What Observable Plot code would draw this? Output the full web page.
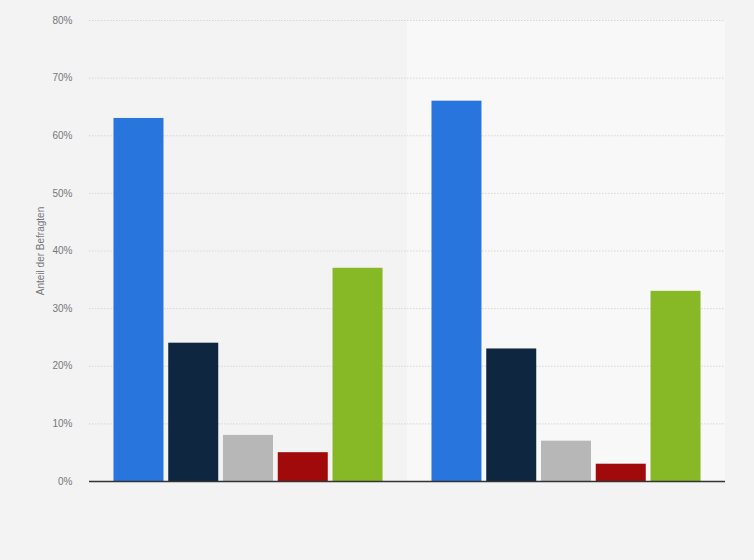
<!DOCTYPE html>
<html>
<head>
<meta charset="utf-8">
<script src="https://cdn.jsdelivr.net/npm/d3@7"></script>
<script src="https://cdn.jsdelivr.net/npm/@observablehq/plot@0.6"></script>
<style>
  html, body { margin: 0; padding: 0; background: #f3f3f3; }
  #chart { width: 754px; height: 560px; }
</style>
</head>
<body>
<div id="chart"></div>
<script>
const groups = ["Gruppe 1", "Gruppe 2"];
const series = ["A", "B", "C", "D", "E"];
const colors = ["#2876dd", "#0f2640", "#b7b7b7", "#a10a0a", "#86b925"];
const group1Values = [63, 24, 8, 5, 37];
const group2Values = [66, 23, 7, 3, 33];
const yTicks = [0, 10, 20, 30, 40, 50, 60, 70, 80];

const data = [];
series.forEach((s, i) => {
  data.push({group: groups[0], series: s, value: group1Values[i]});
  data.push({group: groups[1], series: s, value: group2Values[i]});
});

const chart = Plot.plot({
  width: 754,
  height: 560,
  marginLeft: 89,
  marginRight: 29,
  marginTop: 20,
  marginBottom: 79,
  style: {background: "transparent", fontFamily: "'Liberation Sans', Arial, sans-serif", fontSize: "10px"},
  fx: {domain: groups, padding: 0, axis: null, round: false},
  x: {domain: series, paddingInner: 0.087, paddingOuter: 0.447, axis: null, round: false},
  y: {domain: [0, 80], ticks: yTicks, tickFormat: d => d + "%", tickSize: 0, tickPadding: 17,
      label: "Anteil der Befragten", labelAnchor: "center", labelOffset: 53, labelArrow: "none"},
  color: {domain: series, range: colors},
  marks: [
    Plot.rect([{group: groups[1]}], {fx: "group", y1: 0, y2: 80, fill: "#f8f8f8"}),
    Plot.ruleY(yTicks.filter(d => d > 0), {stroke: "#d6d6d6", strokeDasharray: "1.5,1.5", strokeWidth: 1}),
    Plot.barY(data, {fx: "group", x: "series", y: "value", fill: "series", inset: 0}),
    Plot.ruleY([0], {stroke: "#333", strokeWidth: 1.5}),
    Plot.axisY({ticks: yTicks, tickFormat: d => d + "%", tickSize: 0, tickPadding: 17, fill: "#777",
      label: "Anteil der Befragten", labelAnchor: "center", labelOffset: 53, labelArrow: "none"})
  ]
});
document.getElementById("chart").append(chart);
</script>
</body>
</html>
